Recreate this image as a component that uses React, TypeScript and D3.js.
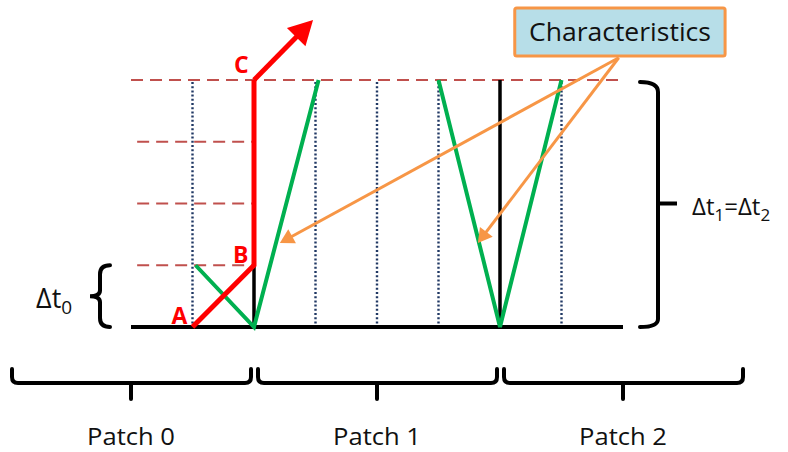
import React from "react";
import * as d3 from "d3";

// grid: columns (cell faces) and time levels
const columns = [0, 1, 2, 3, 4, 5, 6, 7, 8];
const dottedColumns = [1, 3, 4, 5, 7];
const patchBoundaryColumns: [number, number, number][] = [
  [2, 0, 1],
  [6, 0, 4],
];
const shortTimeLevels = [1, 2, 3];
const topLevel = 4;

// characteristic paths (column, level)
const redPath: [number, number][] = [
  [1, 0],
  [2, 1],
  [2, 4],
];
const redArrowTip: [number, number] = [2.96, 4.97];
const greenPaths: [number, number][][] = [
  [
    [1.05, 1],
    [2, 0],
    [3.05, 4],
  ],
  [
    [5, 4],
    [6, 0],
    [7, 4],
  ],
];
const pointLabels = [
  { text: "A", at: [1, 0], dx: -21, dy: -3 },
  { text: "B", at: [2, 1], dx: -21, dy: -2 },
  { text: "C", at: [2, 4], dx: -20, dy: -7 },
];

// callout
const calloutText = "Characteristics";
const calloutAnchor: [number, number] = [7.93, 4.36];
const calloutTargets: [number, number][] = [
  [2.42, 1.36],
  [5.64, 1.36],
];

// patches
const patchNames = ["Patch 0", "Patch 1", "Patch 2"];
const patchSpans: [number, number][] = [
  [-2, 2],
  [2, 6],
  [6, 10],
];

const W = 788;
const H = 452;
const x = d3.scaleLinear().domain([0, 8]).range([131, 623]);
const y = d3.scaleLinear().domain([0, 4]).range([327, 80]);

const FONT = "'Open Sans', 'Noto Sans', sans-serif";

function arrowHead(from: [number, number], to: [number, number], len: number, half: number) {
  const dx = to[0] - from[0];
  const dy = to[1] - from[1];
  const d = Math.hypot(dx, dy);
  const ux = dx / d;
  const uy = dy / d;
  const bx = to[0] - ux * len;
  const by = to[1] - uy * len;
  const px = -uy;
  const py = ux;
  return {
    points: `${to[0]},${to[1]} ${bx + px * half},${by + py * half} ${bx - px * half},${by - py * half}`,
    base: [bx + ux * 2, by + uy * 2] as [number, number],
  };
}

export default function App() {
  const line = d3
    .line<[number, number]>()
    .x((d) => x(d[0]))
    .y((d) => y(d[1]));

  const redTipPx: [number, number] = [x(redArrowTip[0]), y(redArrowTip[1])];
  const cPx: [number, number] = [x(2), y(4)];
  const redHead = arrowHead(cPx, redTipPx, 24, 13);

  const anchorPx: [number, number] = [x(calloutAnchor[0]), y(calloutAnchor[1])];

  const yTop = y(topLevel);
  const yBot = y(0);
  const brX = 658;
  const yMid = (yTop + yBot) / 2;

  return (
    <svg
      width={W}
      height={H}
      style={{ position: "absolute", left: 0, top: 0, background: "#fff" }}
      fontFamily={FONT}
    >
      {/* dotted cell faces */}
      {dottedColumns.map((c) => (
        <line
          key={"dot" + c}
          x1={x(c)}
          x2={x(c)}
          y1={y(topLevel) + 2}
          y2={y(0) - 2}
          stroke="#203864"
          strokeWidth={2.4}
          strokeDasharray="2 2.2"
        />
      ))}
      {/* dashed time levels */}
      <line
        x1={x(0)}
        x2={x(8)}
        y1={yTop}
        y2={yTop}
        stroke="#c0504d"
        strokeWidth={2.2}
        strokeDasharray="12 7"
      />
      {shortTimeLevels.map((t) => (
        <line
          key={"t" + t}
          x1={x(0.1)}
          x2={x(2)}
          y1={y(t)}
          y2={y(t)}
          stroke="#c0504d"
          strokeWidth={2.2}
          strokeDasharray="12 7"
        />
      ))}
      {/* patch boundaries and base line */}
      {patchBoundaryColumns.map(([c, t0, t1]) => (
        <line key={"pb" + c} x1={x(c)} x2={x(c)} y1={y(t0)} y2={y(t1)} stroke="#000" strokeWidth={3.5} />
      ))}
      <line x1={x(columns[0])} x2={x(columns[columns.length - 1])} y1={yBot} y2={yBot} stroke="#000" strokeWidth={4} />

      {/* green characteristics */}
      {greenPaths.map((p, i) => (
        <path key={"g" + i} d={line(p) || ""} fill="none" stroke="#00b050" strokeWidth={4} strokeLinejoin="miter" />
      ))}

      {/* red path */}
      <path d={line(redPath) || ""} fill="none" stroke="#ff0000" strokeWidth={5} strokeLinejoin="miter" />
      <line x1={cPx[0]} y1={cPx[1]} x2={redHead.base[0]} y2={redHead.base[1]} stroke="#ff0000" strokeWidth={5} />
      <polygon points={redHead.points} fill="#ff0000" />
      {pointLabels.map((l) => (
        <text
          key={l.text}
          x={x(l.at[0]) + l.dx}
          y={y(l.at[1]) + l.dy}
          fill="#ff0000"
          fontWeight="bold"
          fontSize={23}
        >
          {l.text}
        </text>
      ))}

      {/* callout lines */}
      {calloutTargets.map((t, i) => {
        const tp: [number, number] = [x(t[0]), y(t[1])];
        const head = arrowHead(anchorPx, tp, 14, 8);
        return (
          <g key={"co" + i}>
            <line x1={anchorPx[0]} y1={anchorPx[1]} x2={head.base[0]} y2={head.base[1]} stroke="#f79646" strokeWidth={3} />
            <polygon points={head.points} fill="#f79646" />
          </g>
        );
      })}
      <rect x={x(6.24)} y={8} width={x(9.66) - x(6.24)} height={48} fill="#b7dee8" stroke="#f79646" strokeWidth={3} rx={2} />
      <text x={x(7.95)} y={41} textAnchor="middle" fontSize={25} fill="#111" textLength={182} lengthAdjust="spacingAndGlyphs">
        {calloutText}
      </text>

      {/* right bracket */}
      <path
        d={`M640,${yTop + 2} Q${brX},${yTop + 2} ${brX},${yTop + 12} L${brX},${yBot - 8} Q${brX},${yBot} 640,${yBot}`}
        fill="none"
        stroke="#000"
        strokeWidth={4}
        strokeLinecap="round"
      />
      <line x1={brX} x2={677} y1={yMid} y2={yMid} stroke="#000" strokeWidth={4} />
      <text x={692} y={215} fontSize={24} fill="#111">
        Δt<tspan fontSize={17} dy={6}>1</tspan>
        <tspan dy={-6}>=Δt</tspan>
        <tspan fontSize={17} dy={6}>2</tspan>
      </text>

      {/* left brace Δt0 */}
      <path
        d={`M110,${y(1)} Q100,${y(1)} 100,${y(1) + 9} L100,${y(0.5) - 6} Q100,${y(0.5)} 90,${y(0.5)} Q100,${y(0.5)} 100,${y(0.5) + 6} L100,${yBot - 9} Q100,${yBot} 110,${yBot}`}
        fill="none"
        stroke="#000"
        strokeWidth={4}
        strokeLinecap="round"
      />
      <text x={36} y={308} fontSize={27} fill="#111">
        Δt<tspan fontSize={19} dy={6}>0</tspan>
      </text>

      {/* patch braces */}
      {patchSpans.map(([a, b], i) => {
        const x0 = x(a) + 4;
        const x1 = x(b) - 3;
        const xm = x((a + b) / 2);
        return (
          <g key={"p" + i}>
            <path
              d={`M${x0},369 L${x0},377 Q${x0},383 ${x0 + 6},383 L${x1 - 6},383 Q${x1},383 ${x1},377 L${x1},369 M${xm},383 L${xm},399`}
              fill="none"
              stroke="#000"
              strokeWidth={4}
              strokeLinecap="round"
            />
            <text x={xm} y={445} textAnchor="middle" fontSize={24} fill="#111" textLength={88} lengthAdjust="spacingAndGlyphs">
              {patchNames[i]}
            </text>
          </g>
        );
      })}
    </svg>
  );
}
